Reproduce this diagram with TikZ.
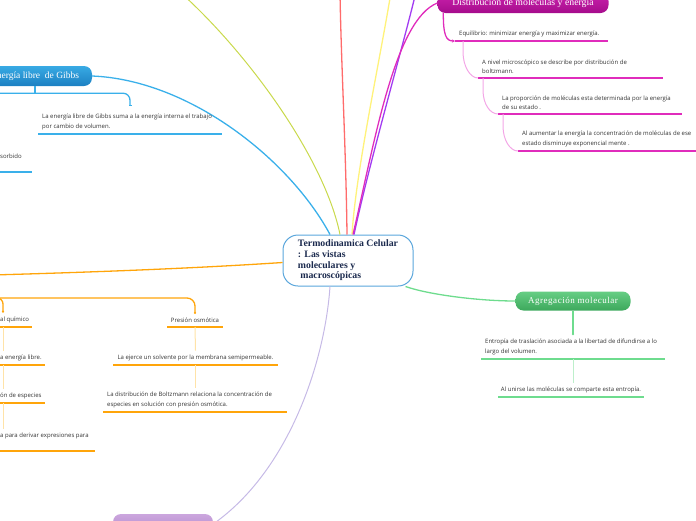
\documentclass[tikz,border=0pt]{standalone}
\usepackage{fontspec}
\setmainfont{Liberation Serif}
\newfontfamily\notefont{Open Sans}
\newfontfamily\widefont[LetterSpace=6]{Liberation Serif}
\usetikzlibrary{arrows.meta}

\definecolor{notegray}{HTML}{333333}
\definecolor{rootnavy}{HTML}{1B2A4E}
\definecolor{rootblue}{HTML}{5AA6DC}
\definecolor{magdark}{HTML}{A50C8C}
\definecolor{maglight}{HTML}{CC22AE}
\definecolor{magstroke}{HTML}{E02CBC}
\definecolor{magpale}{HTML}{F3A6E6}
\definecolor{bluedark}{HTML}{1C80C2}
\definecolor{bluelight}{HTML}{38AAE4}
\definecolor{bluestroke}{HTML}{3AB0EA}
\definecolor{greendark}{HTML}{3DA85C}
\definecolor{greenlight}{HTML}{66CE84}
\definecolor{greenstroke}{HTML}{6EDC8E}
\definecolor{greenpale}{HTML}{BDEFCB}
\definecolor{orstroke}{HTML}{FFA50A}
\definecolor{orpale}{HTML}{FFE3A8}
\definecolor{lilacdark}{HTML}{B48ACC}
\definecolor{lilaclight}{HTML}{CBA6DE}
\definecolor{lilacstroke}{HTML}{C6BAE6}
\definecolor{limestroke}{HTML}{C9D94C}
\definecolor{redstroke}{HTML}{FF6B6B}
\definecolor{yellowstroke}{HTML}{FFF27A}
\definecolor{violetstroke}{HTML}{A23CF2}

\begin{document}
\begin{tikzpicture}[x=1pt, y=-1pt, >=Stealth,
                    every node/.style={inner sep=0pt},
                    note/.style={font=\notefont\fontsize{6}{9.5}\selectfont, text=notegray,
                                 align=left, inner xsep=4pt, inner ysep=4pt, anchor=south west},
                    midnote/.style={note, align=center, anchor=south},
                    topic/.style={rounded corners=8pt, minimum height=20pt, text=white,
                                  font=\fontsize{9.8}{11}\selectfont},
                    link/.style={line width=1.3pt},
                    under/.style={line width=1.5pt},
                    soft/.style={line width=1pt}]

  \useasboundingbox (0,0) rectangle (696,520);

  %% idea central
  \node[rounded corners=15pt, draw=rootblue, line width=1pt, fill=white,
        minimum width=130pt, minimum height=51pt, align=left, text=rootnavy,
        font=\bfseries\fontsize{9.8}{10.7}\selectfont]
        (root) at (348,260.5) {Termodinamica Celular\\: Las vistas\\moleculares y\\\ macroscópicas};

  %% temas
  \node[topic, top color=maglight, bottom color=magdark, minimum width=171pt]
        (dist) at (523,3) {Distribución de moléculas y energía};
  \node[topic, top color=bluelight, bottom color=bluedark, minimum width=114pt,
        font=\fontsize{9.5}{11}\selectfont] (gibbs) at (35,76) {Energía libre \ de Gibbs};
  \node[topic, top color=greenlight, bottom color=greendark, minimum width=115pt,
        minimum height=19pt, font=\widefont\fontsize{9}{11}\selectfont]
        (agreg) at (573,301) {Agregación molecular};
  \node[topic, top color=lilaclight, bottom color=lilacdark, minimum width=100pt]
        (lilac) at (163,524) {};

  %% extremos fuera del recuadro
  \coordinate (limeend) at (180,-8);
  \coordinate (redend) at (340,-8);
  \coordinate (yelend) at (391,-8);
  \coordinate (vioend) at (416,-8);
  \coordinate (orend) at (-8,275);
  \coordinate (orhub) at (-12,298);

  %% ramas del centro
  \draw[link, limestroke, line width=1pt] ([xshift=-8pt]root.north) .. controls (325,160) and (250,55) .. (limeend);
  \draw[link, redstroke] ([xshift=-1pt]root.north) .. controls (346,150) and (341,60) .. (redend);
  \draw[link, yellowstroke] ([xshift=4pt]root.north) .. controls (356,170) and (380,60) .. (yelend);
  \draw[link, violetstroke] ([xshift=6pt]root.north) .. controls (370,160) and (402,50) .. (vioend);
  \draw[link, magstroke] ([xshift=5pt]root.north) .. controls (375,140) and (395,20) .. (dist.west);
  \draw[link, bluestroke] ([xshift=-18pt]root.north) .. controls (290,160) and (190,80) .. (gibbs.east);
  \draw[link, orstroke] ([yshift=-2pt]root.west) .. controls (200,268) and (100,272) .. (orend);
  \draw[link, greenstroke] ([xshift=-8pt]root.south east) .. controls (430,295) and (480,301) .. (agreg.west);
  \draw[link, lilacstroke, line width=1pt] ([xshift=-18pt]root.south) .. controls (325,360) and (290,470) .. (lilac.east);

  %% Distribucion de moleculas
  \node[note] (d1) at (455,41) {Equilibrio: minimizar energía y maximizar energía.};
  \node[note] (d2) at (478,78) {A nivel microscópico se describe por distribución de\\boltzmann.};
  \node[note] (d3) at (498,114) {La proporción de moléculas esta determinada por la energía\\de su estado .};
  \node[note] (d4) at (518,151) {Al aumentar la energía la concentración de moléculas de ese\\estado disminuye exponencial mente .};
  \foreach \n/\w in {d1/153, d2/185, d3/184, d4/190}
    \draw[under, magstroke] (\n.south west) -- ++(\w,0);
  \draw[link, magstroke, -{Stealth[length=3pt,width=3pt]}] ([xshift=6pt]dist.south west) .. controls +(0,22) and +(-9,0) .. (d1.south west);
  \draw[soft, magpale] ([xshift=8pt]d1.south west) -- ++(0,11) .. controls +(0,14) and +(-8,0) .. (d2.south west);
  \draw[soft, magpale] ([xshift=5pt]d2.south west) -- ++(0,12) .. controls +(0,14) and +(-8,0) .. (d3.south west);
  \draw[soft, magpale] ([xshift=5pt]d3.south west) -- ++(0,12) .. controls +(0,14) and +(-8,0) .. (d4.south west);

  %% Energia libre de Gibbs
  \node[note] (g1) at (38,134) {La energía libre de Gibbs suma a la energía interna el trabajo\\por cambio de volumen.};
  \node[note] (g2) at (-4,172) {sorbido\\\mbox{}};
  \foreach \n/\w in {g1/184, g2/36}
    \draw[under, bluestroke] (\n.south west) -- ++(\w,0);
  \draw[link, bluestroke] (gibbs.south) -- ++(0,7);
  \draw[link, bluestroke, rounded corners=7pt, -{Bar[width=3pt]}] ([xshift=-60pt]gibbs.south) ++(0,7) -| ([xshift=92pt,yshift=4pt]g1.north west);

  %% Agregacion molecular
  \node[note] (a1) at (481,359) {Entropía de traslación asociada a la libertad de difundirse a lo\\largo del volumen.};
  \node[midnote] (a2) at (571,397) {Al unirse las moléculas se comparte esta entropía.};
  \draw[under, greenstroke] (a1.south west) -- ++(184,0);
  \draw[under, greenstroke] ([xshift=-73pt]a2.south) -- ++(146,0);
  \draw[link, greenstroke, -{Circle[length=2pt]}] (agreg.south) -- (agreg.south |- a1.north);
  \draw[soft, greenpale] (agreg.south |- a1.south) -- (agreg.south |- a2.north);

  %% Presion osmotica y columna cortada
  \node[midnote] (o1) at (195,327) {Presión osmótica};
  \node[midnote] (o2) at (195.5,365) {La ejerce un solvente por la membrana semipermeable.};
  \node[note] (o3) at (103,412) {La distribución de Boltzmann relaciona la concentración de\\especies en solución con presión osmótica.};
  \node[note] (q1) at (-4,327) {al químico};
  \node[note] (q2) at (-4,365) {a energía libre.};
  \node[note] (q3) at (-4,403) {ón de especies};
  \node[note] (q4) at (-4,451) {a para derivar expresiones para\\\mbox{}};
  \foreach \n/\w in {o3/184, q1/36, q2/49, q3/49, q4/99}
    \draw[under, orstroke] (\n.south west) -- ++(\w,0);
  \foreach \n/\w in {o1/56, o2/165}
    \draw[under, orstroke] ([xshift=-\w/2]\n.south) -- ++(\w,0);
  \draw[link, orstroke, rounded corners=8pt, -{Circle[length=2pt]}] (orhub) -| (o1.north);
  \draw[link, orstroke, rounded corners=6pt, -{Circle[length=2pt]}] (orhub) -| ([xshift=7pt]q1.north west);
  \draw[soft, orpale] (o1.south) -- (o2.north);
  \draw[soft, orpale] (o2.south) -- (o2.south |- o3.north);
  \draw[soft, orpale] ([xshift=7pt]q1.south west) -- ([xshift=7pt]q2.north west);
  \draw[soft, orpale] ([xshift=7pt]q2.south west) -- ([xshift=7pt]q3.north west);
  \draw[soft, orpale] ([xshift=7pt]q3.south west) -- ([xshift=7pt]q4.north west);

\end{tikzpicture}
\end{document}
